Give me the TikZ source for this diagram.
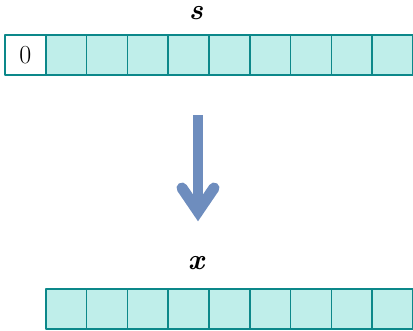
\documentclass[tikz,border=0pt]{standalone}
\usepackage{tikz}
\usetikzlibrary{positioning}

\definecolor{cellfill}{RGB}{191,238,234}
\definecolor{celldraw}{RGB}{12,136,138}
\definecolor{arrowblue}{RGB}{110,141,190}

\begin{document}
\begin{tikzpicture}[line cap=round,line join=round,x=1pt,y=-1pt, cell/.style={rectangle, draw=celldraw, fill=cellfill, line width=1.6pt, minimum width=40.8pt, minimum height=40pt, inner sep=0pt, outer sep=0pt, font=\fontsize{26}{30}\selectfont}, zerocell/.style={cell, fill=white}, lbl/.style={anchor=base, inner sep=1pt, font=\fontsize{29}{33}\selectfont\bfseries\itshape}, bigarrow/.style={draw=arrowblue, line width=10pt}]
    \useasboundingbox (0,0) rectangle (413,330);

    \node[lbl] (s) at (196,19) {s};

    \node[zerocell] (s0) at (25.4,55) {0};
    \node[cell] (s1) at (66.2,55) {};
    \node[cell] (s2) at (107,55) {};
    \node[cell] (s3) at (147.8,55) {};
    \node[cell] (s4) at (188.6,55) {};
    \node[cell] (s5) at (229.4,55) {};
    \node[cell] (s6) at (270.2,55) {};
    \node[cell] (s7) at (311,55) {};
    \node[cell] (s8) at (351.8,55) {};
    \node[cell] (s9) at (392.6,55) {};

    \coordinate (from) at (198,115);
    \coordinate (to) at (198,205);
    \coordinate (apex) at (198,211.5);
    \coordinate (hl) at (182,188);
    \coordinate (hr) at (214,188);
    \draw [bigarrow, line cap=butt] (from) -- (to);
    \draw [bigarrow, line width=11pt, line join=miter] (hl) -- (apex) -- (hr);

    \node[lbl] (x) at (196,269) {x};

    \node[cell] (x1) at (66.2,309) {};
    \node[cell] (x2) at (107,309) {};
    \node[cell] (x3) at (147.8,309) {};
    \node[cell] (x4) at (188.6,309) {};
    \node[cell] (x5) at (229.4,309) {};
    \node[cell] (x6) at (270.2,309) {};
    \node[cell] (x7) at (311,309) {};
    \node[cell] (x8) at (351.8,309) {};
    \node[cell] (x9) at (392.6,309) {};
\end{tikzpicture}
\end{document}
